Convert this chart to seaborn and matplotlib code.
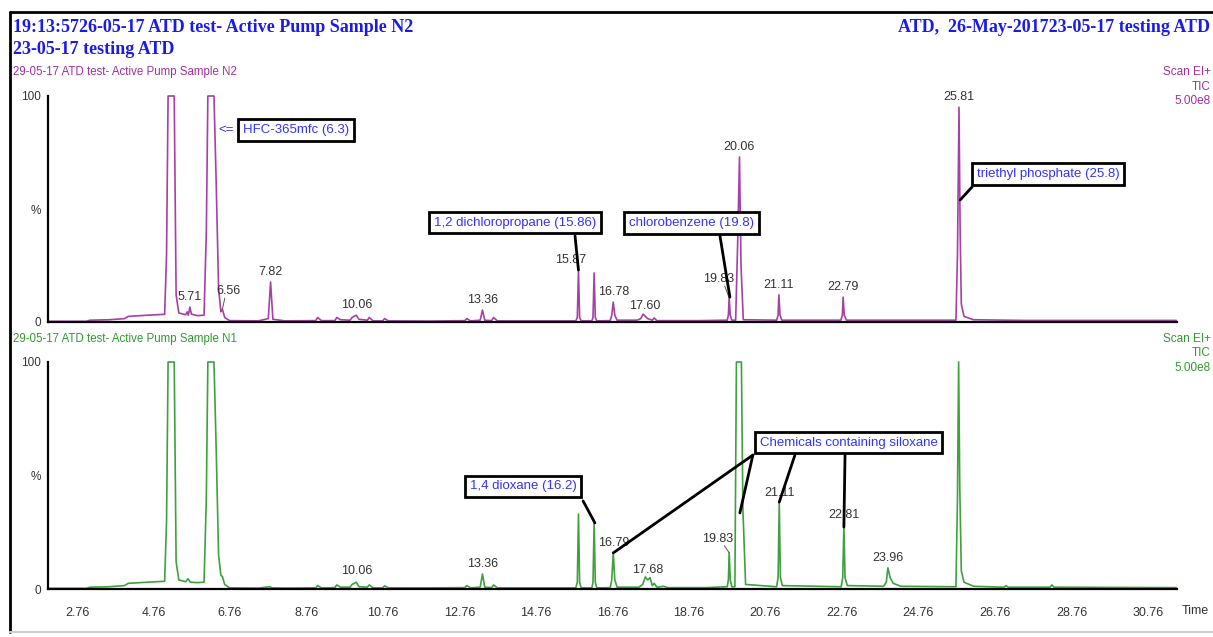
import numpy as np
import pandas as pd
import matplotlib
matplotlib.use("Agg")
import matplotlib.pyplot as plt
import seaborn as sns
from matplotlib.lines import Line2D

# Chromatogram traces (retention time in min, intensity in %)
top_rt = [
    2.00, 3.00, 3.10, 3.60, 4.00, 4.10, 4.60, 5.05,
    5.10, 5.14, 5.30, 5.35, 5.42,
    5.60, 5.64, 5.67, 5.71, 5.75, 5.90,
    6.08, 6.14, 6.18, 6.34, 6.40, 6.46, 6.52, 6.56, 6.62, 6.75,
    7.50, 7.76, 7.82, 7.88, 8.20,
    9.00, 9.05, 9.15, 9.50, 9.55, 9.65, 9.90, 9.95, 10.06, 10.13, 10.35, 10.40, 10.50, 10.75, 10.80, 10.90,
    12.00, 12.90, 12.95, 13.05, 13.30, 13.36, 13.42, 13.60, 13.65, 13.75,
    15.80, 15.84, 15.87, 15.90, 15.94,
    16.22, 16.25, 16.28, 16.31, 16.35,
    16.70, 16.74, 16.78, 16.82, 16.88,
    17.40, 17.50, 17.56, 17.62, 17.68, 17.80, 17.85, 17.92,
    19.00, 19.76, 19.79, 19.81, 19.84, 19.88,
    19.98, 20.04, 20.08, 20.12, 20.18,
    21.05, 21.09, 21.11, 21.14, 21.19,
    22.73, 22.77, 22.79, 22.82, 22.88,
    25.74, 25.78, 25.82, 25.85, 25.88, 25.95, 26.20,
    27.50, 29.00, 31.50]
top_int = [
    0.3, 0.3, 0.8, 1.0, 1.5, 2.5, 3.0, 3.4,
    30, 100, 100, 12, 4.0,
    3.2, 4.5, 3.0, 6.6, 3.5, 2.8,
    3.0, 40, 100, 100, 60, 15, 4.5, 5.7, 2.0, 0.6,
    0.5, 1.5, 17.7, 1.2, 0.5,
    0.6, 2.0, 0.6, 0.6, 2.0, 1.0, 0.8, 2.0, 3.0, 1.2, 0.8, 2.0, 0.5, 0.5, 1.5, 0.5,
    0.4, 0.6, 1.5, 0.5, 0.8, 5.3, 0.8, 0.6, 2.0, 0.5,
    0.5, 2.0, 23.0, 2.0, 0.5,
    0.5, 2.0, 21.7, 2.0, 0.5,
    0.6, 3.0, 8.8, 3.0, 0.8,
    0.8, 1.5, 3.5, 2.5, 1.5, 0.8, 1.8, 0.6,
    0.6, 0.8, 3.0, 10.6, 3.0, 0.8,
    0.8, 40, 73.0, 25, 1.0,
    0.8, 3.0, 12.0, 3.0, 0.8,
    0.8, 3.0, 11.0, 3.0, 0.8,
    0.8, 30, 95.0, 40, 8, 2.5, 1.0,
    0.7, 0.7, 0.7]

bot_rt = [
    2.00, 3.00, 3.10, 3.60, 4.00, 4.10, 4.60, 5.05,
    5.10, 5.14, 5.30, 5.35, 5.42,
    5.60, 5.66, 5.72, 5.90,
    6.08, 6.14, 6.18, 6.34, 6.40, 6.46, 6.52, 6.56, 6.62, 6.75,
    7.50, 7.80, 7.86, 8.20,
    9.00, 9.05, 9.15, 9.50, 9.55, 9.65, 9.90, 9.95, 10.06, 10.13, 10.35, 10.40, 10.50, 10.75, 10.80, 10.90,
    12.00, 12.90, 12.95, 13.05, 13.30, 13.36, 13.42, 13.60, 13.65, 13.75,
    15.80, 15.84, 15.87, 15.90, 15.94,
    16.22, 16.25, 16.28, 16.31, 16.35,
    16.70, 16.74, 16.78, 16.82, 16.88,
    17.45, 17.55, 17.62, 17.68, 17.74, 17.80, 17.85, 17.92, 18.10, 18.20,
    19.20, 19.76, 19.79, 19.81, 19.84, 19.88,
    19.96, 20.00, 20.13, 20.17, 20.24,
    21.05, 21.09, 21.12, 21.15, 21.20,
    22.74, 22.78, 22.81, 22.84, 22.90,
    23.85, 23.92, 23.96, 24.02, 24.10, 24.30,
    25.74, 25.78, 25.81, 25.84, 25.88, 25.95, 26.20,
    27.00, 27.05, 27.10, 28.20, 28.25, 28.30, 31.50]
bot_int = [
    0.3, 0.3, 0.8, 1.0, 1.5, 2.5, 3.0, 3.4,
    30, 100, 100, 12, 4.0,
    3.2, 4.5, 3.0, 2.8,
    3.0, 40, 100, 100, 60, 15, 6.0, 5.5, 2.0, 0.5,
    0.4, 1.0, 0.5, 0.4,
    0.5, 1.5, 0.5, 0.6, 1.8, 0.8, 0.8, 2.0, 3.0, 1.0, 0.8, 1.8, 0.5, 0.5, 1.4, 0.5,
    0.5, 0.6, 1.5, 0.5, 0.8, 6.6, 0.8, 0.6, 1.8, 0.5,
    0.5, 3.0, 33.0, 3.0, 0.5,
    0.5, 3.0, 29.0, 3.0, 0.5,
    0.6, 4.0, 16.0, 4.0, 0.8,
    0.8, 2.0, 5.3, 4.0, 5.0, 1.5, 2.5, 0.8, 1.2, 0.6,
    0.6, 1.0, 4.0, 16.0, 4.0, 1.0,
    1.0, 100, 100, 35, 2.0,
    1.0, 5.0, 38.0, 5.0, 1.5,
    1.0, 5.0, 28.0, 5.0, 1.5,
    1.2, 3.0, 9.3, 5.0, 2.5, 1.2,
    1.0, 40, 100, 45, 8, 3.0, 1.2,
    0.8, 1.5, 0.8, 0.8, 1.8, 0.8, 0.6]

# peak labels
top_labels = ["5.71", "6.56", "7.82", "10.06", "13.36", "15.87", "16.78",
              "17.60", "19.83", "20.06", "21.11", "22.79", "25.81"]
top_label_rt = [5.71, 6.56, 7.82, 10.06, 13.36, 15.87, 16.78, 17.60, 19.81, 20.08, 21.11, 22.79, 25.82]
bot_labels = ["10.06", "13.36", "16.79", "17.68", "19.83", "21.11", "22.81", "23.96"]
bot_label_rt = [10.06, 13.36, 16.78, 17.68, 19.81, 21.12, 22.81, 23.96]

# compound call-outs
top_notes = ["HFC-365mfc (6.3)", "1,2 dichloropropane (15.86)", "chlorobenzene (19.8)",
             "triethyl phosphate (25.8)"]
bot_notes = ["1,4 dioxane (16.2)", "Chemicals containing siloxane"]
siloxane_rt = [16.78, 20.09, 21.12, 22.81]

x_ticks = np.arange(2.76, 31.0, 2.0)

W, H = 1213, 637
PURPLE = "#a640a6"
GREEN = "#3fa03f"
BLUE = "#3333ff"
DARK = "#333333"

sns.set_style("white")
plt.rcParams["font.family"] = ["Liberation Sans", "DejaVu Sans"]

fig = plt.figure(figsize=(W / 100, H / 100), dpi=100)


def px_axes(l, t, r, b):
    return fig.add_axes([l / W, 1 - b / H, (r - l) / W, (b - t) / H])


ax_top = px_axes(48, 96, 1177, 322)
ax_bot = px_axes(48, 362, 1177, 589)

top_df = pd.DataFrame({"rt": top_rt, "int": top_int})
bot_df = pd.DataFrame({"rt": bot_rt, "int": bot_int})
sns.lineplot(data=top_df, x="rt", y="int", ax=ax_top, color=PURPLE, lw=1.2,
             estimator=None, sort=False)
sns.lineplot(data=bot_df, x="rt", y="int", ax=ax_bot, color=GREEN, lw=1.2,
             estimator=None, sort=False)

for ax in (ax_top, ax_bot):
    ax.lines[0].set_clip_on(False)
    ax.set_xlim(2.0, 31.52)
    ax.set_ylim(0, 100)
    ax.set_xlabel("")
    ax.set_ylabel("")
    for s in ("top", "right"):
        ax.spines[s].set_visible(False)
    for s in ("left", "bottom"):
        ax.spines[s].set_color("black")
        ax.spines[s].set_linewidth(1.6)
    ax.set_xticks(x_ticks)
    ax.set_xticks(np.arange(2.16, 31.5, 0.2), minor=True)
    ax.set_yticks([0, 50, 100])
    ax.set_yticklabels(["0", "%", "100"])
    ax.set_yticks(np.arange(0, 101, 10), minor=True)
    ax.tick_params(axis="x", which="major", direction="out", length=5, width=1.2,
                   color="black", labelsize=9, labelcolor=DARK, pad=8)
    ax.tick_params(axis="x", which="minor", direction="out", length=3, width=1,
                   color="black")
    ax.tick_params(axis="y", which="major", direction="out", length=4, width=1.2,
                   color="black", labelsize=8.5, labelcolor=DARK, pad=1)
    ax.tick_params(axis="y", which="minor", direction="out", length=3, width=1,
                   color="black")
    ax.patch.set_alpha(0)

ax_top.tick_params(axis="x", labelbottom=False)
ax_bot.set_xticklabels([f"{v:.2f}" for v in x_ticks])

# peak labels
top_off = {"6.56": (6, 12), "15.87": (-8, 4), "19.83": (-11, 13)}
bot_off = {"19.83": (-12, 8), "10.06": (0, 5)}
for ax, labels, rts, rt_arr, int_arr, offs in (
        (ax_top, top_labels, top_label_rt, top_rt, top_int, top_off),
        (ax_bot, bot_labels, bot_label_rt, bot_rt, bot_int, bot_off)):
    for lab, rt in zip(labels, rts):
        h = np.interp(rt, rt_arr, int_arr)
        dx, dy = offs.get(lab, (0, 4))
        ax.annotate(lab, xy=(rt, h), xytext=(dx, dy), textcoords="offset pixels",
                    ha="center", va="bottom", fontsize=9, color=DARK, zorder=3)
        if lab in ("6.56", "19.83"):
            ax.annotate("", xy=(rt, h), xytext=(dx * 0.4, dy - 1), textcoords="offset pixels",
                        arrowprops=dict(arrowstyle="-", lw=0.7, color="#555555",
                                        shrinkA=0, shrinkB=0))

box = dict(boxstyle="square,pad=0.36", fc="white", ec="black", lw=2)
line = dict(arrowstyle="-", lw=2, color="black", shrinkA=0, shrinkB=0)
NOTE_FS = 9.5

# top panel call-outs
ax_top.text(6.66, 85, "<=", ha="center", va="center", fontsize=NOTE_FS, color=BLUE)
ax_top.text(8.49, 85, top_notes[0], ha="center", va="center", fontsize=NOTE_FS, color=BLUE,
            bbox=box)
ax_top.annotate("", xy=(15.87, 23.0), xytext=(15.78, 38.1), arrowprops=line)
ax_top.text(14.22, 44.0, top_notes[1], ha="center", va="center", fontsize=NOTE_FS, color=BLUE,
            bbox=box, zorder=5)
ax_top.annotate("", xy=(19.83, 11.0), xytext=(19.57, 38.1), arrowprops=line)
ax_top.text(18.83, 43.8, top_notes[2], ha="center", va="center", fontsize=NOTE_FS, color=BLUE,
            bbox=box, zorder=5)
ax_top.annotate("", xy=(25.85, 54.0), xytext=(26.16, 59.7), arrowprops=line)
ax_top.text(28.15, 65.5, top_notes[3], ha="center", va="center", fontsize=NOTE_FS, color=BLUE,
            bbox=box, zorder=5)

# bottom panel call-outs
ax_bot.annotate("", xy=(16.30, 29.1), xytext=(15.99, 38.8), arrowprops=line)
ax_bot.text(14.42, 45.2, bot_notes[0], ha="center", va="center", fontsize=NOTE_FS, color=BLUE,
            bbox=box, zorder=5)
siloxane_y = [15.9, 33.5, 38.3, 27.3]
siloxane_from = [20.43, 20.43, 21.53, 22.84]
for rt, y, x0 in zip(siloxane_rt, siloxane_y, siloxane_from):
    ax_bot.annotate("", xy=(rt, y), xytext=(x0, 59.0), arrowprops=line)
ax_bot.text(22.93, 64.5, bot_notes[1], ha="center", va="center", fontsize=NOTE_FS, color=BLUE,
            bbox=box, zorder=5)

# header and side texts
serif = ["Liberation Serif", "DejaVu Serif"]
fig.text(13 / W, 1 - 28 / H, "19:13:5726-05-17 ATD test- Active Pump Sample N2",
         family=serif, weight="bold", fontsize=13, color="#1a1aee", va="center")
fig.text(13 / W, 1 - 49 / H, "23-05-17 testing ATD", family=serif, weight="bold",
         fontsize=13, color="#1a1aee", va="center")
fig.text(1210 / W, 1 - 28 / H, "ATD,  26-May-201723-05-17 testing ATD", family=serif,
         weight="bold", fontsize=13, color="#1a1aee", va="center", ha="right")
fig.text(13 / W, 1 - 72 / H, "29-05-17 ATD test- Active Pump Sample N2", fontsize=8.3,
         color="#a0309f", va="center")
fig.text(13 / W, 1 - 339 / H, "29-05-17 ATD test- Active Pump Sample N1", fontsize=8.3,
         color="#2f9a2f", va="center")
for y0, col in ((72, "#a0309f"), (339, "#2f9a2f")):
    for i, s in enumerate(["Scan EI+", "TIC", "5.00e8"]):
        fig.text(1211 / W, 1 - (y0 + 14.5 * i) / H, s, fontsize=8.5, color=col,
                 ha="right", va="center")
fig.text(1195 / W, 1 - 611 / H, "Time", fontsize=9, color=DARK, ha="center", va="center")

# outer frame
fig.add_artist(Line2D([10 / W, 1.0], [1 - 12 / H, 1 - 12 / H], color="black", lw=2))
fig.add_artist(Line2D([10 / W, 10 / W], [1 - 12 / H, 1 - 632 / H], color="black", lw=2))
fig.add_artist(Line2D([10 / W, 1.0], [1 - 632 / H, 1 - 632 / H], color="#d0d0d0", lw=1.5))

fig.savefig("out.png", dpi=100)
